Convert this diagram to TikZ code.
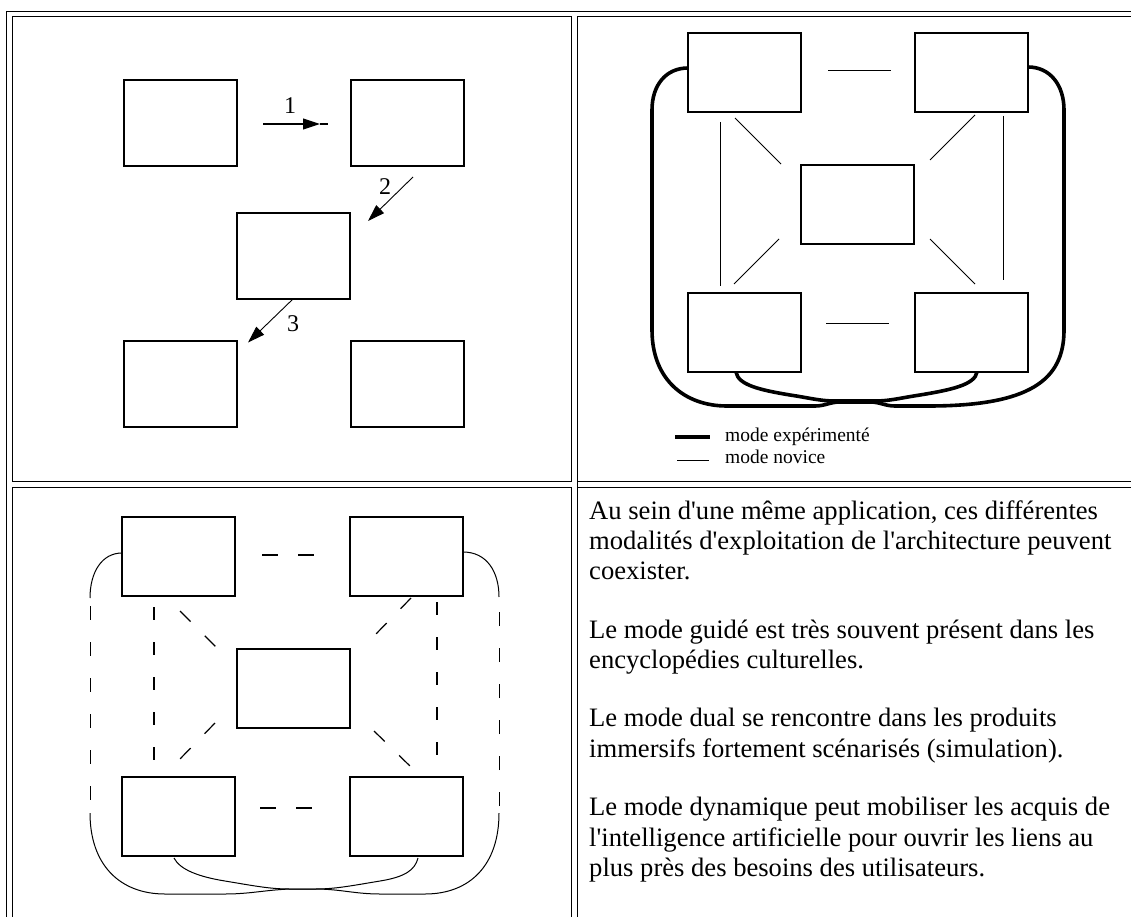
\documentclass[tikz,border=0pt]{standalone}
\usepackage{fontspec}
\newfontfamily\txtfont{Liberation Serif}
\usetikzlibrary{arrows.meta,calc}
\tikzset{
  cellborder/.style={line width=1.4pt},
  box/.style={draw,line width=1.3pt,minimum width=113pt,minimum height=79pt,inner sep=0pt,outer sep=0pt,anchor=north west},
  tallbox/.style={box,minimum height=86pt},
  thin/.style={line width=1pt},
  expert/.style={line width=3.6pt,line join=round},
  dashlink/.style={line width=1.2pt,dash pattern=on 16pt off 20pt},
  numlabel/.style={font=\txtfont\fontsize{24}{26}\selectfont,inner sep=0pt},
  para/.style={font=\txtfont\fontsize{26.6}{30}\selectfont,inner sep=0pt,anchor=base west},
  legend/.style={font=\txtfont\fontsize{19.5}{21}\selectfont,inner sep=0pt,anchor=base west},
  head/.style={-{Triangle[length=17pt,width=11pt]},line width=1.1pt}
}
\begin{document}
\begin{tikzpicture}[x=1pt,y=-1pt]
\useasboundingbox (0,0) rectangle (1131,917);
\clip (0,0) rectangle (1131,917);
\fill[white] (0,0) rectangle (1131,917);
% table borders
\draw[cellborder] (6.7,930) -- (6.7,11.5) -- (1140,11.5);
\draw[cellborder] (12.7,16.7) rectangle (571.7,481.7);
\draw[cellborder] (577.7,930) -- (577.7,16.7) -- (1140,16.7);
\draw[cellborder] (577.7,930) -- (577.7,487.7) -- (1140,487.7);
\draw[cellborder] (12.7,930) -- (12.7,487.7) -- (571.7,487.7) -- (571.7,930);
\draw[cellborder] (577.7,481.7) -- (1140,481.7);

% ---------- panel 1 : guided mode ----------
\node[tallbox] (pA) at (124,80) {};
\node[tallbox] (pB) at (351,80) {};
\node[tallbox] (pC) at (237,213) {};
\node[tallbox] (pD) at (124,341) {};
\node[tallbox] (pE) at (351,341) {};
\coordinate (a1s) at (263,124);
\coordinate (a1t) at (320,124);
\coordinate (a1e) at (328,124);
\draw[head] (a1s) -- (a1t);
\draw[line width=1.1pt] (a1t) -- (a1e);
\coordinate (a2s) at (413,177);
\coordinate (a2t) at (368,221);
\draw[head,line width=0.9pt] (a2s) -- (a2t);
\coordinate (a3s) at (293,299);
\coordinate (a3t) at (248,342.5);
\draw[head,line width=0.9pt] (a3s) -- (a3t);
\node[numlabel] (l1) at (290,106) {1};
\node[numlabel] (l2) at (385,187) {2};
\node[numlabel] (l3) at (293,324) {3};

% ---------- panel 2 : expert / novice ----------
\node[box] (qTL) at (688,33) {};
\node[box] (qTR) at (915,33) {};
\node[box] (qC) at (801,165) {};
\node[box] (qBL) at (688,293) {};
\node[box] (qBR) at (915,293) {};
\draw[thin] (828,71) -- (891,71);
\draw[thin] (826,323) -- (889,323);
\draw[thin] (720,122) -- (720,286);
\draw[thin] (1003,116) -- (1003,280);
\draw[thin] (735,118) -- (781,164);
\draw[thin] (975,115) -- (930,160);
\draw[thin] (734,284) -- (779,239);
\draw[thin] (975,284) -- (930,239);
% expert loops
\draw[expert] (qTL.west |- 0,68) .. controls (666,68) and (652,85) .. (652,110)
  -- (652,330) .. controls (652,380) and (685,406) .. (727,406)
  -- (815,406) .. controls (825,406) and (830,402) .. (840,402)
  -- (870,402) .. controls (880,402) and (885,406) .. (895,406)
  -- (928,406) .. controls (1030,406) and (1064,380) .. (1064,330)
  -- (1064,110) .. controls (1064,85) and (1050,67) .. (qTR.east |- 0,67);
\draw[expert] (736,372) .. controls (738,385) and (760,390) .. (790,395)
  .. controls (810,398) and (820,401) .. (835,401) -- (875,401)
  .. controls (890,401) and (900,398) .. (920,395)
  .. controls (950,390) and (975,385) .. (977,372);
% legend
\coordinate (lg1a) at (675,437);
\coordinate (lg1b) at (710,437);
\coordinate (lg2a) at (677,460);
\coordinate (lg2b) at (709,460);
\draw[line width=3.6pt] (lg1a) -- (lg1b);
\draw[thin] (lg2a) -- (lg2b);
\node[legend] (lt1) at (725,441.5) {mode expérimenté};
\node[legend] (lt2) at (725,463) {mode novice};

% ---------- panel 3 : dashed ----------
\node[box] (rTL) at (122,517) {};
\node[box] (rTR) at (350,517) {};
\node[box] (rC) at (237,649) {};
\node[box] (rBL) at (122,777) {};
\node[box] (rBR) at (350,777) {};
\draw[dashlink] (262,555) -- (315,555);
\draw[dashlink] (260,808) -- (313,808);
\draw[dashlink,dash pattern=on 13pt off 22pt] (154,607) -- (154,770);
\draw[dashlink,dash pattern=on 13pt off 22pt] (437,602) -- (437,765);
\draw[dashlink,dash pattern=on 15pt off 20pt] (180,611) -- (217,648);
\draw[dashlink,dash pattern=on 15pt off 20pt] (411,598) -- (374,636);
\draw[dashlink,dash pattern=on 15pt off 20pt] (215,723) -- (178,761);
\draw[dashlink,dash pattern=on 15pt off 20pt] (374,731) -- (411,767);
% outer loop
\draw[thin] (rTL.west |- 0,553) .. controls (102,553) and (90,572) .. (90,598);
\draw[thin,dash pattern=on 14pt off 22pt] (90,606) -- (90,813);
\draw[thin] (90,813) .. controls (90,865) and (120,894) .. (165,894)
  -- (225,894) .. controls (250,894) and (265,890) .. (290,889) -- (315,889)
  .. controls (340,889) and (355,894) .. (380,894) -- (425,894)
  .. controls (470,894) and (499,865) .. (499,813);
\draw[thin,dash pattern=on 14pt off 22pt] (499,806) -- (499,597);
\draw[thin] (499,597) .. controls (499,572) and (487,552) .. (rTR.east |- 0,552);
% inner curve
\draw[thin] (174,858) .. controls (180,870) and (200,877) .. (225,881)
  .. controls (255,886) and (270,889) .. (290,889) -- (315,889)
  .. controls (335,889) and (350,886) .. (380,881)
  .. controls (405,877) and (415,870) .. (418,858);

% ---------- panel 4 : text ----------
\node[para] (t1) at (589,519) {Au sein d'une même application, ces différentes};
\node[para] (t2) at (589,549.3) {modalités d'exploitation de l'architecture peuvent};
\node[para] (t3) at (589,579.6) {coexister.};
\node[para] (t4) at (589,638.1) {Le mode guidé est très souvent présent dans les};
\node[para] (t5) at (589,668.4) {encyclopédies culturelles.};
\node[para] (t6) at (589,726.9) {Le mode dual se rencontre dans les produits};
\node[para] (t7) at (589,757.2) {immersifs fortement scénarisés (simulation).};
\node[para] (t8) at (589,815.7) {Le mode dynamique peut mobiliser les acquis de};
\node[para] (t9) at (589,846) {l'intelligence artificielle pour ouvrir les liens au};
\node[para] (t10) at (589,876.3) {plus près des besoins des utilisateurs.};
\end{tikzpicture}
\end{document}
